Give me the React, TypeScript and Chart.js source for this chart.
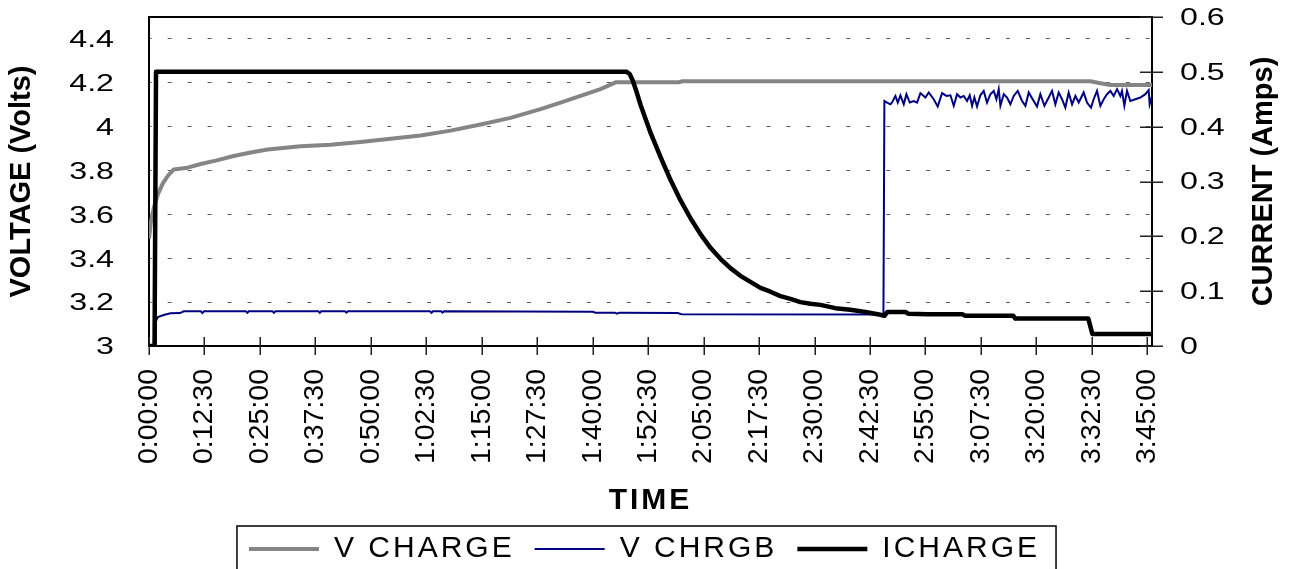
import React, { useEffect, useRef } from 'react';
import { Chart, registerables } from 'chart.js';

Chart.register(...registerables);

const FONT = "'Liberation Sans', Arial, Helvetica, sans-serif";

// ---------- texts ----------
const SERIES_LABELS = ['V CHARGE', 'V CHRGB', 'ICHARGE'];
const VOLT_TITLE = 'VOLTAGE (Volts)';
const AMP_TITLE = 'CURRENT (Amps)';
const TIME_TITLE = 'TIME';

// ---------- axes ----------
const TIME_TICKS = [0, 750, 1500, 2250, 3000, 3750, 4500, 5250, 6000, 6750, 7500, 8250, 9000, 9750, 10500, 11250, 12000, 12750, 13500];
const TIME_MAX = 13564;
const VOLT_TICKS = [3, 3.2, 3.4, 3.6, 3.8, 4, 4.2, 4.4];
const VOLT_MIN = 3;
const VOLT_MAX = 4.5;
const AMP_TICKS = [0, 0.1, 0.2, 0.3, 0.4, 0.5, 0.6];
const AMP_MIN = 0;
const AMP_MAX = 0.6;

// ---------- data (time in seconds) ----------
const VCHARGE_T = [0, 23, 64, 118, 185, 253, 334, 523, 699, 902, 1145, 1375, 1604, 2050, 2456, 2861, 3267, 3672, 4078, 4484, 4889, 5295, 5565, 5836, 6106, 6309, 7161, 7215, 12730, 12866, 13000, 13564];
const VCHARGE_V = [3.49, 3.56, 3.63, 3.69, 3.74, 3.775, 3.805, 3.813, 3.83, 3.845, 3.866, 3.882, 3.896, 3.911, 3.918, 3.93, 3.945, 3.96, 3.982, 4.01, 4.04, 4.08, 4.11, 4.14, 4.171, 4.202, 4.202, 4.207, 4.207, 4.198, 4.19, 4.19];

const VCHRGB_LOW_T = [0, 85, 92, 120, 199, 290, 420, 470, 700, 722, 745, 1310, 1330, 1350, 1670, 1690, 1710, 2290, 2310, 2330, 2650, 2670, 2690, 3800, 3820, 3840, 3950, 3970, 3990, 6000, 6040, 6300, 6330, 6360, 7150, 7200, 9932];
const VCHRGB_LOW_V = [3.0, 3.0, 3.112, 3.132, 3.141, 3.149, 3.15, 3.158, 3.158, 3.15, 3.158, 3.158, 3.151, 3.158, 3.158, 3.151, 3.158, 3.158, 3.151, 3.158, 3.158, 3.152, 3.158, 3.158, 3.151, 3.158, 3.158, 3.152, 3.158, 3.156, 3.152, 3.152, 3.147, 3.152, 3.15, 3.145, 3.144];
const VCHRGB_HIGH_T = [9945, 9982, 10027, 10049, 10094, 10126, 10162, 10207, 10243, 10288, 10342, 10387, 10432, 10500, 10545, 10612, 10666, 10725, 10784, 10838, 10883, 10928, 10973, 11018, 11063, 11099, 11131, 11162, 11198, 11243, 11288, 11333, 11378, 11424, 11460, 11491, 11514, 11559, 11604, 11649, 11694, 11748, 11807, 11852, 11897, 11964, 12009, 12054, 12109, 12167, 12212, 12257, 12302, 12347, 12392, 12437, 12483, 12528, 12573, 12640, 12685, 12739, 12775, 12820, 12866, 12911, 12956, 13001, 13046, 13091, 13136, 13158, 13190, 13226, 13271, 13339, 13406, 13474, 13519, 13532, 13564];
const VCHRGB_HIGH_V = [4.117, 4.11, 4.102, 4.11, 4.14, 4.11, 4.143, 4.102, 4.148, 4.11, 4.117, 4.11, 4.153, 4.133, 4.156, 4.125, 4.092, 4.153, 4.14, 4.143, 4.095, 4.148, 4.133, 4.14, 4.117, 4.143, 4.095, 4.133, 4.092, 4.143, 4.163, 4.11, 4.148, 4.163, 4.125, 4.171, 4.095, 4.148, 4.133, 4.102, 4.14, 4.163, 4.117, 4.095, 4.156, 4.117, 4.092, 4.148, 4.095, 4.133, 4.163, 4.102, 4.156, 4.125, 4.087, 4.156, 4.102, 4.14, 4.11, 4.156, 4.11, 4.087, 4.125, 4.163, 4.095, 4.125, 4.148, 4.163, 4.14, 4.171, 4.14, 4.163, 4.095, 4.163, 4.117, 4.125, 4.133, 4.148, 4.167, 4.102, 4.14];

const ICHARGE_T = [0, 75, 95, 6460, 6500, 6539, 6590, 6647, 6782, 6917, 7052, 7187, 7323, 7458, 7593, 7728, 7863, 7998, 8134, 8269, 8404, 8539, 8674, 8809, 8945, 9080, 9282, 9485, 9688, 9891, 9945, 9986, 10229, 10270, 10527, 11000, 11040, 11689, 11716, 12703, 12757, 13564];
const ICHARGE_A = [0, 0, 0.5, 0.5, 0.496, 0.485, 0.465, 0.44, 0.389, 0.345, 0.303, 0.266, 0.233, 0.204, 0.179, 0.159, 0.142, 0.128, 0.117, 0.106, 0.099, 0.091, 0.086, 0.08, 0.077, 0.075, 0.069, 0.066, 0.062, 0.057, 0.055, 0.062, 0.062, 0.059, 0.058, 0.058, 0.055, 0.055, 0.05, 0.05, 0.022, 0.022];

// ---------- styles ----------
const GRAY = '#858585';
const NAVY = '#000080';
const BLACK = '#000000';

const pairs = (t: number[], v: number[]) => t.map((x, i) => ({ x, y: v[i] }));

const fmtTime = (s: number) => {
  const h = Math.floor(s / 3600);
  const m = Math.floor((s % 3600) / 60);
  const sec = Math.round(s % 60);
  return `${h}:${String(m).padStart(2, '0')}:${String(sec).padStart(2, '0')}`;
};
const fmtNum = (v: number) => String(Math.round(v * 10) / 10);

function stretchLabels(scale: any, sx: number, dy: number, side: 'left' | 'right') {
  if (!scale || scale.__stretched) return;
  scale.__stretched = true;
  const orig = scale.drawLabels.bind(scale);
  scale.drawLabels = (area: any) => {
    const ctx = scale.ctx;
    const pad = scale.options.ticks.padding;
    const ax = side === 'left' ? scale.right - pad : scale.left + pad;
    ctx.save();
    ctx.translate(ax, dy);
    ctx.scale(sx, 1);
    ctx.translate(-ax, 0);
    orig(area);
    ctx.restore();
  };
}

function spaceMethod(obj: any, name: string, spacing: string) {
  if (!obj || obj['__sp_' + name]) return;
  obj['__sp_' + name] = true;
  const orig = obj[name].bind(obj);
  obj[name] = (...args: any[]) => {
    const ctx = obj.ctx;
    ctx.save();
    ctx.letterSpacing = spacing;
    const r = orig(...args);
    ctx.restore();
    return r;
  };
}

const noPad = (s: any) => {
  s.paddingTop = 0;
  s.paddingBottom = 0;
  s.paddingLeft = 0;
  s.paddingRight = 0;
};

const refPlugin = {
  id: 'refStyle',
  beforeLayout(chart: any) {
    spaceMethod(chart.legend, 'fit', '3px');
    spaceMethod(chart.legend, 'draw', '3px');
  },
  beforeDraw(chart: any) {
    stretchLabels(chart.scales.y, 1.4, 2, 'left');
    stretchLabels(chart.scales.y1, 1.4, 1.5, 'right');
    spaceMethod(chart.scales.x, 'drawTitle', '3px');
  },
  beforeDatasetsDraw(chart: any) {
    const ctx = chart.ctx;
    const { left, right, top, bottom } = chart.chartArea;
    const xs = chart.scales.x;
    const y1 = chart.scales.y1;
    ctx.save();
    ctx.strokeStyle = '#000';
    ctx.lineWidth = 2;
    ctx.beginPath();
    ctx.moveTo(left - 1, top);
    ctx.lineTo(right + 1, top);
    ctx.stroke();
    ctx.lineWidth = 1.5;
    ctx.strokeStyle = '#222';
    ctx.beginPath();
    TIME_TICKS.forEach((v) => {
      const px = Math.round(xs.getPixelForValue(v)) + 0.25;
      ctx.moveTo(px, bottom - 9);
      ctx.lineTo(px, bottom + 9);
    });
    AMP_TICKS.forEach((v) => {
      const py = Math.round(y1.getPixelForValue(v)) + 0.25;
      ctx.moveTo(right - 12, py);
      ctx.lineTo(right + 11, py);
    });
    ctx.stroke();
    ctx.restore();
  },
  afterDraw(chart: any) {
    const ctx = chart.ctx;
    const lg = chart.legend;
    ctx.save();
    if (lg && lg.legendHitBoxes && lg.legendHitBoxes.length) {
      const hb = lg.legendHitBoxes;
      const first = hb[0];
      const last = hb[hb.length - 1];
      const bx = first.left - 12;
      const by = first.top - 8;
      const bw = last.left + last.width + 16 - bx;
      ctx.strokeStyle = '#000';
      ctx.lineWidth = 1.5;
      ctx.strokeRect(bx, by, bw, chart.height + 10 - by);
    }
    const { top, bottom } = chart.chartArea;
    ctx.translate(1264, (top + bottom) / 2);
    ctx.rotate(-Math.PI / 2);
    ctx.font = `bold 29px ${FONT}`;
    ctx.fillStyle = '#000';
    ctx.textAlign = 'center';
    ctx.textBaseline = 'middle';
    ctx.fillText(AMP_TITLE, 0, 0);
    ctx.restore();
  },
};

export default function App() {
  const ref = useRef<HTMLCanvasElement>(null);

  useEffect(() => {
    if (!ref.current) return;
    const chart = new Chart(ref.current, {
      type: 'line',
      data: {
        datasets: [
          {
            label: SERIES_LABELS[0],
            data: pairs(VCHARGE_T, VCHARGE_V),
            yAxisID: 'y',
            borderColor: GRAY,
            backgroundColor: GRAY,
            borderWidth: 4,
            pointRadius: 0,
            pointHoverRadius: 0,
            pointBorderWidth: 4,
            pointBorderColor: GRAY,
            tension: 0,
            borderJoinStyle: 'round',
            order: 3,
          },
          {
            label: SERIES_LABELS[1],
            data: pairs(VCHRGB_LOW_T.concat(VCHRGB_HIGH_T), VCHRGB_LOW_V.concat(VCHRGB_HIGH_V)),
            yAxisID: 'y',
            borderColor: NAVY,
            backgroundColor: NAVY,
            borderWidth: 2,
            pointRadius: 0,
            pointHoverRadius: 0,
            pointBorderWidth: 2,
            pointBorderColor: NAVY,
            tension: 0,
            order: 2,
          },
          {
            label: SERIES_LABELS[2],
            data: pairs(ICHARGE_T, ICHARGE_A),
            yAxisID: 'y1',
            borderColor: BLACK,
            backgroundColor: BLACK,
            borderWidth: 4.5,
            pointRadius: 0,
            pointHoverRadius: 0,
            pointBorderWidth: 4.5,
            pointBorderColor: BLACK,
            tension: 0,
            borderJoinStyle: 'round',
            order: 1,
          },
        ] as any,
      },
      options: {
        responsive: false,
        maintainAspectRatio: false,
        animation: false,
        devicePixelRatio: 1,
        events: [],
        layout: { autoPadding: false, padding: { top: 17, left: 0, right: 0, bottom: -5 } },
        plugins: {
          tooltip: { enabled: false },
          legend: {
            display: true,
            position: 'bottom',
            labels: {
              usePointStyle: true,
              pointStyle: 'line',
              pointStyleWidth: 70,
              color: '#000',
              padding: 20,
              font: { family: FONT, size: 30 },
              sort: (a: any, b: any) => a.datasetIndex - b.datasetIndex,
            },
          },
        },
        scales: {
          x: {
            type: 'linear',
            position: 'bottom',
            min: 0,
            max: TIME_MAX,
            afterBuildTicks: (s: any) => {
              s.ticks = TIME_TICKS.map((v) => ({ value: v }));
            },
            afterFit: (s: any) => {
              s.height = 168;
              noPad(s);
            },
            ticks: {
              autoSkip: false,
              minRotation: 90,
              maxRotation: 90,
              padding: 23,
              color: '#000',
              font: { family: FONT, size: 28.5 },
              callback: (v: any) => fmtTime(Number(v)),
            },
            grid: { display: false, drawTicks: false },
            border: { display: true, color: '#000', width: 2 },
            title: {
              display: true,
              text: TIME_TITLE,
              color: '#000',
              font: { family: FONT, size: 30, weight: 'bold' },
              padding: { top: 0, bottom: -5 },
            },
          },
          y: {
            type: 'linear',
            position: 'left',
            min: VOLT_MIN,
            max: VOLT_MAX,
            afterBuildTicks: (s: any) => {
              s.ticks = VOLT_TICKS.map((v) => ({ value: v }));
            },
            afterFit: (s: any) => {
              s.width = 149;
              noPad(s);
            },
            ticks: {
              padding: 35,
              color: '#000',
              font: { family: FONT, size: 23 },
              callback: (v: any) => fmtNum(Number(v)),
            },
            grid: {
              display: true,
              drawTicks: false,
              lineWidth: 1,
              color: (c: any) => (c.tick && Math.abs(c.tick.value - VOLT_MIN) < 1e-9 ? 'rgba(0,0,0,0)' : '#5a5a5a'),
            },
            border: { display: true, color: '#000', width: 2, dash: [4, 15.96], dashOffset: 2.3 },
            title: {
              display: true,
              text: VOLT_TITLE,
              color: '#000',
              font: { family: FONT, size: 29, weight: 'bold' },
              padding: { top: 5, bottom: 0 },
            },
          },
          y1: {
            type: 'linear',
            position: 'right',
            min: AMP_MIN,
            max: AMP_MAX,
            afterBuildTicks: (s: any) => {
              s.ticks = AMP_TICKS.map((v) => ({ value: v }));
            },
            afterFit: (s: any) => {
              s.width = 137;
              noPad(s);
            },
            ticks: {
              padding: 28,
              color: '#000',
              font: { family: FONT, size: 23 },
              callback: (v: any) => fmtNum(Number(v)),
            },
            grid: { display: false, drawTicks: false, drawOnChartArea: false },
            border: { display: true, color: '#000', width: 2 },
            title: { display: false },
          },
        },
      } as any,
      plugins: [refPlugin as any],
    });
    return () => chart.destroy();
  }, []);

  return (
    <div style={{ position: 'absolute', left: 0, top: 0, width: 1289, height: 569, background: '#fff' }}>
      <canvas ref={ref} width={1289} height={569} style={{ display: 'block', width: 1289, height: 569 }} />
    </div>
  );
}
